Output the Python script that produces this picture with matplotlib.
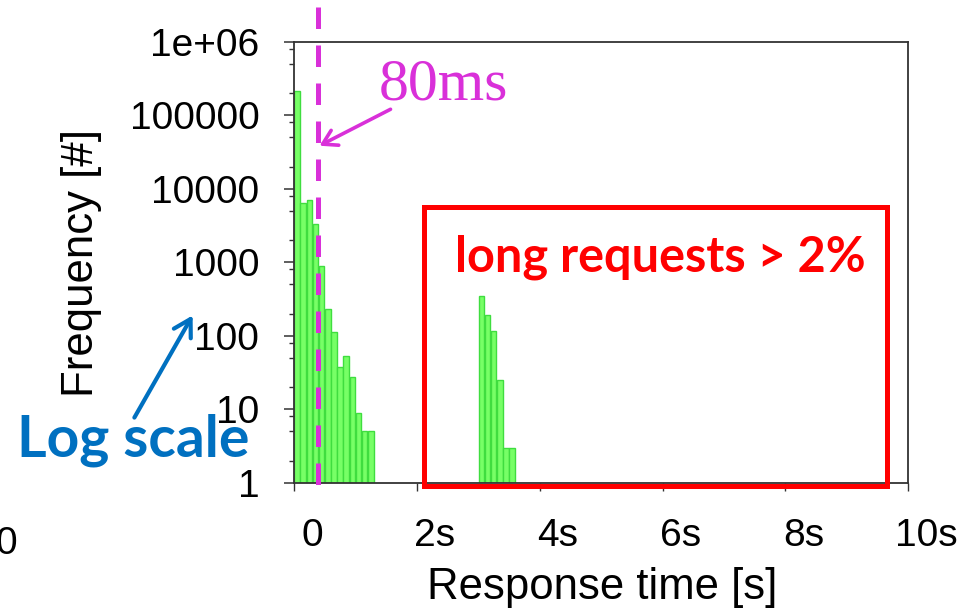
import matplotlib
matplotlib.use("Agg")
import matplotlib.pyplot as plt
import matplotlib.transforms as mtransforms
from matplotlib.patches import FancyArrowPatch, Rectangle
from matplotlib.lines import Line2D
from matplotlib.ticker import LogLocator, NullFormatter, FixedLocator

# ---- data ----
short_centers = [0.05, 0.15, 0.25, 0.35, 0.45, 0.55, 0.65, 0.75, 0.85, 0.95, 1.05, 1.15, 1.25]
short_counts = [213000, 6300, 7000, 3300, 890, 230, 113, 38, 53, 27, 9, 5, 5]
long_centers = [3.05, 3.15, 3.25, 3.35, 3.45, 3.55]
long_counts = [350, 193, 116, 25, 3, 3]
x_ticks = [0, 2, 4, 6, 8, 10]
x_tick_labels = ["0", "2s", "4s", "6s", "8s", "10s"]
y_ticks = [1, 10, 100, 1000, 10000, 100000, 1000000]
y_tick_labels = ["1", "10", "100", "1000", "10000", "100000", "1e+06"]

W, H = 965, 610
fig = plt.figure(figsize=(W / 100, H / 100), dpi=100)
plt.rcParams['font.family'] = ['Liberation Sans', 'DejaVu Sans']

def P(x, y):
    return (x / W, 1 - y / H)

L, R, T, B = 294, 908.3, 41.7, 482.7
ax = fig.add_axes([L / W, 1 - B / H, (R - L) / W, (B - T) / H])

bar_face = '#77FF66'
bar_edge = '#3FDD3F'
ax.bar(short_centers, short_counts, width=0.092, bottom=0, color=bar_face,
       edgecolor=bar_edge, linewidth=1.0)
ax.bar(long_centers, long_counts, width=0.092, bottom=0, color=bar_face,
       edgecolor=bar_edge, linewidth=1.0)

ax.set_yscale('log')
ax.set_ylim(1, 1e6)
ax.set_xlim(0, 10)

ax.yaxis.set_major_locator(FixedLocator(y_ticks))
ax.set_yticklabels(y_tick_labels)
ax.yaxis.set_minor_locator(LogLocator(base=10, subs=[2, 5, 8], numticks=20))
ax.yaxis.set_minor_formatter(NullFormatter())
ax.set_xticks(x_ticks)
ax.set_xticklabels(x_tick_labels)

for s in ax.spines.values():
    s.set_color('#333333')
    s.set_linewidth(1.3)

ax.tick_params(axis='y', which='major', direction='out', length=7, width=1.1,
               color='#333333', labelsize=28, pad=18)
ax.tick_params(axis='y', which='minor', direction='out', length=3.6, width=1.0,
               color='#333333')
ax.tick_params(axis='x', which='major', direction='out', length=5.5, width=1.0,
               color='#333333', labelsize=28, pad=20)

offset = mtransforms.ScaledTranslation(18 / 100, 0, fig.dpi_scale_trans)
for lab in ax.get_xticklabels():
    lab.set_transform(lab.get_transform() + offset)

# axis labels
fig.text(*P(602, 587), "Response time [s]", ha='center', va='center', fontsize=31.5)
fig.text(*P(81, 263), "Frequency [#]", ha='center', va='center', fontsize=31.5,
         rotation=90)

# stray "0" at the left edge
fig.text(*P(17, 544), "0", ha='right', va='center', fontsize=28)

# magenta dashed line
magenta = '#D930D9'
ln = Line2D([317.5 / W, 317.5 / W], [1 - 7 / H, 1 - 487 / H], transform=fig.transFigure,
            color=magenta, linewidth=3.6, linestyle=(0, (4.3, 3.3)), zorder=5)
fig.add_artist(ln)

fig.text(*P(443, 86), "80ms", ha='center', va='center', fontsize=43,
         family=['Liberation Serif'], color=magenta)
arr = FancyArrowPatch(P(393, 108), P(317, 147), transform=fig.transFigure,
                      arrowstyle='->,head_length=10,head_width=6', color=magenta,
                      linewidth=2.6, mutation_scale=1, zorder=6)
fig.add_artist(arr)

# red rectangle
rx0, ry0, rx1, ry1 = 424, 207, 886.5, 486
rect = Rectangle(P(rx0, ry1), (rx1 - rx0) / W, (ry1 - ry0) / H, transform=fig.transFigure,
                 fill=False, edgecolor='#FF0000', linewidth=3.6, zorder=6)
fig.add_artist(rect)
fig.text(*P(660, 257), "long requests > 2%", ha='center', va='center', fontsize=35,
         family=['Lato', 'DejaVu Sans'], weight='bold', color='#FF0000')

# blue annotation
blue = '#0070C0'
fig.text(*P(133, 440), "Log scale", ha='center', va='center', fontsize=41,
         family=['Lato', 'DejaVu Sans'], weight='bold', color=blue)
arr2 = FancyArrowPatch(P(133, 420), P(194, 313), transform=fig.transFigure,
                       arrowstyle='->,head_length=12,head_width=7', color=blue,
                       linewidth=3.0, mutation_scale=1, zorder=6)
fig.add_artist(arr2)

fig.savefig("out.png", dpi=100)
